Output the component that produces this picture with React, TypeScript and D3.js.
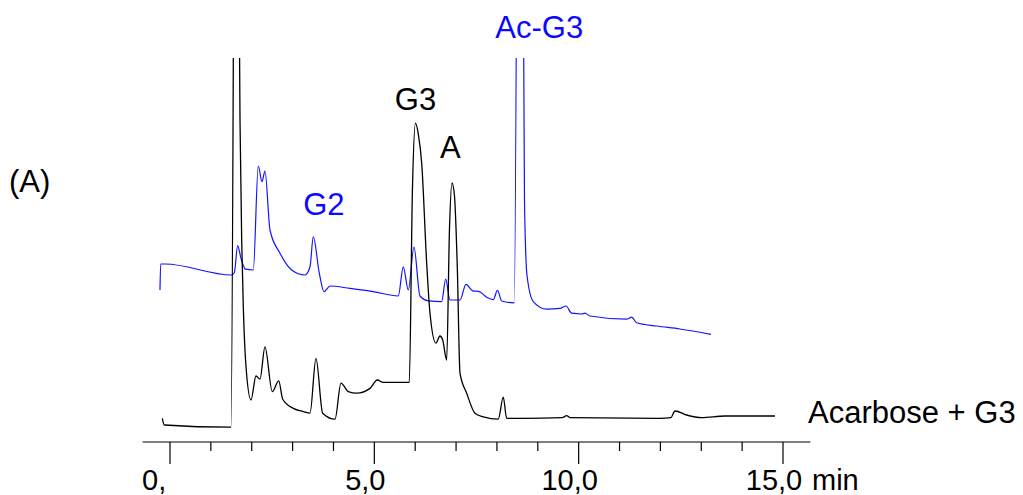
import React from "react";
import * as d3 from "d3";

// Retention time (min) and detector signal (arbitrary units) for each trace.
const acarboseTime = [
  -0.188, -0.139, 1.493, 1.615, 1.713, 1.754, 1.794, 1.86, 1.982, 2.104, 2.202, 2.324,
  2.503, 2.66, 2.758, 3.017, 3.262, 3.426, 3.572, 3.736, 4.037, 4.184, 4.363, 4.568,
  4.894, 5.072, 5.219, 5.855, 5.932, 6.007, 6.08, 6.159, 6.281, 6.362, 6.508, 6.606,
  6.673, 6.77, 6.838, 6.9, 6.96, 7.03, 7.096, 7.26, 7.463, 7.666, 8.033, 8.155, 8.238,
  8.645, 9.6, 9.706, 9.787, 11.989, 12.258, 12.356, 12.642, 13.009, 13.579, 14.803,
];
const acarboseSignal = [
  5.4, 3.75, 3.2, 210, 80, 50, 33.3, 18.3, 10, 16, 15.2, 23.3,
  12.1, 14.8, 10.2, 7.9, 7.1, 6.7, 20.4, 6.7, 5.2, 14.2, 12.1, 11.7,
  12.9, 15, 14.4, 14.4, 62.5, 79.2, 76.2, 69.2, 44.2, 31.7, 24.2, 26,
  25, 20, 52.5, 64.3, 61.2, 43.3, 16.7, 11.7, 6.7, 5.8, 5.2, 10.7, 5.4,
  5.4, 5.6, 6.1, 5.6, 5.4, 5.6, 7.25, 6.25, 5.6, 6, 6,
];

const acG3Time = [
  -0.245, -0.228, -0.122, 1.505, 1.573, 1.656, 1.737, 1.847, 2.038, 2.16, 2.251, 2.324,
  2.447, 2.691, 2.978, 3.303, 3.426, 3.506, 3.653, 3.768, 3.915, 4.404, 4.974, 5.586,
  5.708, 5.831, 5.97, 6.117, 6.32, 6.648, 6.746, 6.851, 7.096, 7.243, 7.407, 7.568,
  7.749, 7.911, 8.013, 8.116, 8.424, 8.564, 8.674, 8.735, 8.889, 9.216, 9.543, 9.689,
  9.829, 10.073, 10.154, 10.277, 11.174, 11.297, 11.419, 11.908, 12.478, 13.237,
];
const acG3Signal = [
  37.5, 44, 44, 41.25, 41.8, 48.6, 45.4, 42.7, 42.5, 68.5, 64.6, 67.25,
  52.5, 46.7, 42.5, 41.25, 43.3, 50.8, 41.7, 37.1, 38.5, 37.9, 37.1, 36,
  43.3, 37.5, 48.2, 36, 34.8, 34.6, 40.2, 35, 35, 38.9, 37.3, 37.1,
  35.7, 35.1, 37.4, 34.75, 34.3, 260, 60, 41.25, 34.6, 32.7, 32.9, 33.5,
  31.7, 31.5, 31.7, 31, 30.2, 30.7, 29.3, 28.5, 27.75, 26.4,
];

const majorTicks = [0, 5, 10, 15];
const majorTickLabels = ["0,", "5,0", "10,0", "15,0"];
const minorTicks = d3.range(0, 16);

// Peak annotations: label, retention time and signal level of the text baseline
const peakLabels = [
  { text: "G2", t: 3.26, v: 56.25, color: "#0a0aff" },
  { text: "G3", t: 5.5, v: 82.5, color: "#000" },
  { text: "A", t: 6.606, v: 70.4, color: "#000" },
  { text: "Ac-G3", t: 7.96, v: 100.4, color: "#0a0aff" },
];

const W = 1023;
const H = 495;
const FONT = "'Liberation Sans', Arial, Helvetica, sans-serif";

export default function App() {
  const x = d3.scaleLinear().domain([0, 15]).range([170, 783]);
  const y = d3.scaleLinear().domain([0, 110]).range([440, 0]);
  const axisY = 442;

  const line = d3
    .line<[number, number]>()
    .x((d) => x(d[0]))
    .y((d) => y(d[1]))
    .curve(d3.curveMonotoneX);

  const blackPts = acarboseTime.map((t, i) => [t, acarboseSignal[i]] as [number, number]);
  const bluePts = acG3Time.map((t, i) => [t, acG3Signal[i]] as [number, number]);

  return (
    <svg
      width={W}
      height={H}
      viewBox={`0 0 ${W} ${H}`}
      style={{ position: "absolute", left: 0, top: 0, background: "#fff" }}
      fontFamily={FONT}
    >
      <defs>
        <clipPath id="plotClip">
          <rect x={0} y={58} width={W} height={H - 58} />
        </clipPath>
      </defs>

      <g clipPath="url(#plotClip)" fill="none" strokeLinejoin="round">
        <path d={line(bluePts) ?? ""} stroke="#1414ff" strokeWidth={1.2} />
        <path d={line(blackPts) ?? ""} stroke="#000" strokeWidth={1.3} />
      </g>

      {/* time axis */}
      <g stroke="#000" strokeWidth={1.2}>
        <line x1={x(-0.67)} x2={x(15.67)} y1={axisY} y2={axisY} />
        {minorTicks.map((t) => (
          <line
            key={`m${t}`}
            x1={x(t)}
            x2={x(t)}
            y1={axisY}
            y2={axisY + (majorTicks.includes(t) ? 22 : 9)}
          />
        ))}
      </g>
      <g fontSize={29} fill="#000">
        {majorTicks.map((t, i) =>
          i === 0 ? (
            <text key={t} x={x(t) - 28} y={490}>
              {majorTickLabels[i]}
            </text>
          ) : (
            <text key={t} x={x(t) - 9} y={490} textAnchor="middle">
              {majorTickLabels[i]}
            </text>
          )
        )}
        <text x={812} y={490}>
          min
        </text>
      </g>

      {/* annotations */}
      <g fontSize={31}>
        {peakLabels.map((p) => (
          <text key={p.text} x={x(p.t)} y={y(p.v)} fill={p.color}>
            {p.text}
          </text>
        ))}
        <text x={9} y={192} fill="#000">
          (A)
        </text>
        <text x={808} y={422.7} fill="#000">
          Acarbose + G3
        </text>
      </g>
    </svg>
  );
}
